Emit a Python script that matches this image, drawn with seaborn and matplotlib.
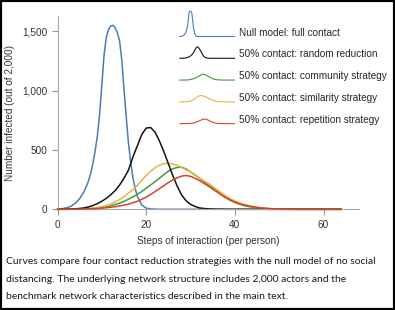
import numpy as np
import pandas as pd
import matplotlib
matplotlib.use("Agg")
import matplotlib.pyplot as plt
import seaborn as sns
from matplotlib.legend_handler import HandlerBase
from matplotlib.lines import Line2D
from matplotlib.patches import Rectangle
from matplotlib.ticker import StrMethodFormatter

# steps of interaction (per person)
steps = list(range(0, 65))

# null model is read more finely around its sharp peak
null_steps = [0, 1, 2, 3, 4, 5, 6, 6.5, 7, 7.5, 8, 8.5, 9, 9.5, 10, 10.5,
              11, 11.5, 12, 12.5, 13, 13.5, 14, 14.5, 15, 15.5, 16, 16.5,
              17, 17.5, 18, 19, 20, 21, 22, 23, 24, 25, 26, 27, 28, 29,
              30, 31, 32, 33, 34, 35, 36, 37, 38, 39, 40, 41, 42, 43, 44,
              45, 46, 47, 48, 49, 50, 51, 52, 53, 54, 55, 56, 57, 58, 59,
              60, 61, 62, 63, 64]
null_full = [2, 5, 12, 25, 50, 90, 150, 192, 240, 305, 390, 495, 620, 800,
             1050, 1300, 1450, 1515, 1545, 1552, 1530, 1490, 1420, 1260,
             1010, 780, 560, 400, 270, 180, 110, 36, 10, 3, 1, 0, 0, 0, 0,
             0, 0, 0, 0, 0, 0, 0, 0, 0, 0, 0, 0, 0, 0, 0, 0, 0, 0, 0, 0, 0,
             0, 0, 0, 0, 0, 0, 0, 0, 0, 0, 0, 0, 0, 0, 0, 0, 0]
random_red = [0, 1, 1, 2, 4, 7, 12, 20, 32, 48,
              68, 92, 122, 158, 205, 262, 330, 440, 535, 630,
              685, 690, 650, 575, 485, 385, 285, 195, 120, 72,
              42, 24, 12, 7, 4, 2, 1, 1, 0, 0,
              0, 0, 0, 0, 0, 0, 0, 0, 0, 0,
              0, 0, 0, 0, 0, 0, 0, 0, 0, 0,
              0, 0, 0, 0, 0]
community = [0, 0, 0, 1, 1, 2, 3, 5, 7, 10,
             14, 20, 28, 40, 52, 67, 85, 105, 127, 150,
             178, 205, 233, 262, 292, 322, 342, 353, 355, 340,
             315, 290, 262, 235, 206, 180, 152, 123, 97, 75,
             58, 44, 32, 24, 17, 12, 8, 6, 4, 3,
             2, 1, 1, 0, 0, 0, 0, 0, 0, 0,
             0, 0, 0, 0, 0]
similarity = [0, 0, 1, 1, 2, 3, 5, 7, 10, 15,
              21, 32, 45, 62, 82, 108, 138, 165, 200, 245,
              285, 320, 350, 372, 385, 388, 382, 370, 352, 333,
              313, 290, 265, 242, 218, 193, 165, 138, 112, 88,
              70, 55, 42, 32, 24, 17, 12, 8, 5, 3,
              2, 1, 1, 0, 0, 0, 0, 0, 0, 0,
              0, 0, 0, 0, 0]
repetition = [0, 0, 0, 1, 1, 2, 3, 4, 5, 7,
              10, 13, 17, 22, 28, 35, 43, 55, 68, 84,
              103, 125, 149, 175, 200, 225, 248, 266, 280, 285,
              278, 262, 242, 220, 196, 171, 146, 120, 97, 78,
              61, 47, 36, 29, 22, 16, 12, 8, 6, 4,
              3, 2, 1, 1, 0, 0, 0, 0, 0, 0,
              0, 0, 0, 0, 0]

labels = ["Null model: full contact",
          "50% contact: random reduction",
          "50% contact: community strategy",
          "50% contact: similarity strategy",
          "50% contact: repetition strategy"]
colors = ["#4a7db5", "#141414", "#3f9b3f", "#e9b441", "#d4422a"]

caption = ("Curves compare four contact reduction strategies with the null model of no social\n"
           "distancing. The underlying network structure includes 2,000 actors and the\n"
           "benchmark network characteristics described in the main text.")


class MiniCurve(HandlerBase):
    # draws a small copy of the plotted curve as the legend key
    def create_artists(self, legend, orig_handle, xdescent, ydescent,
                       width, height, fontsize, trans):
        x = np.asarray(orig_handle.get_xdata(), float)
        y = np.asarray(orig_handle.get_ydata(), float)
        xs = -xdescent + x / x.max() * width
        ys = -ydescent - 0.7 + y * 0.0118
        line = Line2D(xs, ys, color=orig_handle.get_color(), lw=0.8)
        line.set_transform(trans)
        return [line]


def main():
    sns.set_style("ticks")
    plt.rcParams["font.family"] = ["Liberation Sans", "DejaVu Sans"]

    x_by_series = [null_steps, steps, steps, steps, steps]
    series = [null_full, random_red, community, similarity, repetition]
    df = pd.DataFrame({
        "step": [x for xs in x_by_series for x in xs],
        "infected": [v for s in series for v in s],
        "model": [lab for lab, s in zip(labels, series) for _ in s],
    })

    fig = plt.figure(figsize=(3.95, 3.1), dpi=100)
    ax = fig.add_axes([57.5 / 395, (310 - 209.3) / 310,
                       (359 - 57.5) / 395, (209.3 - 16) / 310])

    sns.lineplot(data=df, x="step", y="infected", hue="model",
                 hue_order=labels, palette=colors, linewidth=1.1,
                 legend=False, ax=ax)
    for ln in ax.lines:
        ln.set_clip_on(False)
    ax.lines[1].set_zorder(2.5)
    ax.lines[4].set_zorder(2.6)

    ax.set_xlim(0, 68)
    ax.set_ylim(0, 1630)
    ax.set_xticks([0, 20, 40, 60])
    ax.set_yticks([0, 500, 1000, 1500])
    ax.yaxis.set_major_formatter(StrMethodFormatter("{x:,.0f}"))
    ax.tick_params(labelsize=7.2, colors="#999999", labelcolor="#333333",
                   length=4, width=0.8)
    for side in ["left", "bottom"]:
        ax.spines[side].set_color("#aaaaaa")
        ax.spines[side].set_linewidth(0.8)
    sns.despine(ax=ax)

    ax.set_xlabel("Steps of interaction (per person)", fontsize=7.2,
                  color="#333333", labelpad=4.5)
    ax.set_ylabel("Number infected (out of 2,000)", fontsize=7.2,
                  color="#333333", labelpad=5)

    ax.legend(handles=list(ax.lines), labels=labels,
              handler_map={Line2D: MiniCurve()},
              loc="upper left", bbox_to_anchor=(179.7 / 395, (310 - 27.5) / 310),
              bbox_transform=fig.transFigure, frameon=False, fontsize=7.2,
              handlelength=5.5, handleheight=0.7, handletextpad=0.4,
              labelspacing=1.18, borderpad=0, borderaxespad=0)

    fig.text(6 / 395, 1 - 257.5 / 310, caption, family=["Lato", "DejaVu Sans"],
             fontsize=7.45, color="#1a1a1a", va="top", ha="left",
             linespacing=2.15)

    fig.patches.append(Rectangle((0, 0), 1, 1, transform=fig.transFigure,
                                 fill=False, edgecolor="black", linewidth=3))

    fig.savefig("out.png", dpi=100)


if __name__ == "__main__":
    main()
